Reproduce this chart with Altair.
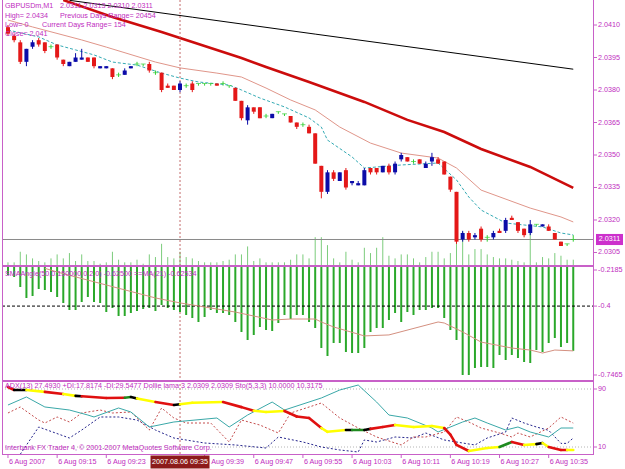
import altair as alt
import pandas as pd

# ---------------------------------------------------------------- data
# GBPUSDm M1 candles, bar 0 = 09:07 ... bar 92 = 10:39
OPEN = [2.0409, 2.0405, 2.0402, 2.0393, 2.0400, 2.0403, 2.0402, 2.0400, 2.0401, 2.0394,
        2.0391, 2.0393, 2.0394, 2.0395, 2.0395, 2.0390, 2.0390, 2.0390, 2.0387, 2.0387,
        2.0390, 2.0392, 2.0392, 2.0392, 2.0388, 2.0388, 2.0382, 2.0382, 2.0380, 2.0382,
        2.0383, 2.0383, 2.0383, 2.0383, 2.0383, 2.0383, 2.0382, 2.0381, 2.0375, 2.0366,
        2.0372, 2.0372, 2.0368, 2.0367, 2.0370, 2.0369, 2.0368, 2.0365, 2.0364, 2.0363,
        2.0360, 2.0345, 2.0333, 2.0342, 2.0338, 2.0343, 2.0337, 2.0336, 2.0336, 2.0344,
        2.0344, 2.0342, 2.0345, 2.0342, 2.0348, 2.0349, 2.0347, 2.0348, 2.0344, 2.0347,
        2.0348, 2.0347, 2.0340, 2.0333, 2.0311, 2.0314, 2.0312, 2.0316, 2.0312, 2.0312,
        2.0315, 2.0315, 2.0321, 2.0319, 2.0316, 2.0314, 2.0318, 2.0317, 2.0317, 2.0314,
        2.0310, 2.0309, 2.0311]
HIGH = [2.0410, 2.0406, 2.0403, 2.0399, 2.0403, 2.0404, 2.0402, 2.0401, 2.0401, 2.0394,
        2.0393, 2.0397, 2.0399, 2.0395, 2.0395, 2.0391, 2.0391, 2.0390, 2.0388, 2.0390,
        2.0391, 2.0393, 2.0392, 2.0393, 2.0389, 2.0388, 2.0383, 2.0382, 2.0384, 2.0383,
        2.0384, 2.0383, 2.0383, 2.0383, 2.0383, 2.0384, 2.0382, 2.0381, 2.0375, 2.0373,
        2.0372, 2.0372, 2.0369, 2.0369, 2.0370, 2.0369, 2.0368, 2.0365, 2.0365, 2.0364,
        2.0360, 2.0345, 2.0343, 2.0343, 2.0342, 2.0344, 2.0338, 2.0338, 2.0344, 2.0344,
        2.0344, 2.0345, 2.0346, 2.0347, 2.0351, 2.0349, 2.0348, 2.0348, 2.0347, 2.0351,
        2.0349, 2.0347, 2.0340, 2.0333, 2.0315, 2.0315, 2.0314, 2.0317, 2.0313, 2.0315,
        2.0316, 2.0321, 2.0322, 2.0319, 2.0316, 2.0320, 2.0318, 2.0318, 2.0318, 2.0314,
        2.0310, 2.0309, 2.0313]
LOW = [2.0405, 2.0402, 2.0392, 2.0391, 2.0399, 2.0400, 2.0397, 2.0399, 2.0394, 2.0391,
       2.0391, 2.0393, 2.0394, 2.0393, 2.0390, 2.0390, 2.0390, 2.0385, 2.0386, 2.0387,
       2.0390, 2.0391, 2.0391, 2.0388, 2.0387, 2.0379, 2.0381, 2.0380, 2.0379, 2.0381,
       2.0379, 2.0382, 2.0382, 2.0382, 2.0382, 2.0382, 2.0381, 2.0375, 2.0366, 2.0364,
       2.0369, 2.0367, 2.0367, 2.0367, 2.0369, 2.0368, 2.0365, 2.0362, 2.0363, 2.0360,
       2.0346, 2.0330, 2.0332, 2.0338, 2.0338, 2.0334, 2.0336, 2.0336, 2.0336, 2.0341,
       2.0341, 2.0342, 2.0341, 2.0341, 2.0347, 2.0347, 2.0346, 2.0346, 2.0344, 2.0345,
       2.0346, 2.0341, 2.0333, 2.0309, 2.0310, 2.0310, 2.0311, 2.0310, 2.0310, 2.0311,
       2.0314, 2.0314, 2.0320, 2.0314, 2.0312, 2.0313, 2.0317, 2.0317, 2.0315, 2.0311,
       2.0308, 2.0308, 2.0310]
CLOSE = [2.0406, 2.0403, 2.0393, 2.0399, 2.0402, 2.0401, 2.0398, 2.0400, 2.0395, 2.0392,
         2.0393, 2.0395, 2.0395, 2.0393, 2.0391, 2.0391, 2.0391, 2.0386, 2.0387, 2.0389,
         2.0391, 2.0392, 2.0392, 2.0389, 2.0388, 2.0380, 2.0381, 2.0380, 2.0383, 2.0382,
         2.0380, 2.0383, 2.0383, 2.0383, 2.0382, 2.0383, 2.0382, 2.0375, 2.0367, 2.0372,
         2.0370, 2.0367, 2.0368, 2.0369, 2.0370, 2.0369, 2.0365, 2.0363, 2.0364, 2.0360,
         2.0346, 2.0333, 2.0342, 2.0339, 2.0342, 2.0335, 2.0338, 2.0337, 2.0343, 2.0342,
         2.0342, 2.0345, 2.0342, 2.0346, 2.0350, 2.0347, 2.0347, 2.0346, 2.0346, 2.0349,
         2.0346, 2.0341, 2.0334, 2.0310, 2.0314, 2.0311, 2.0313, 2.0311, 2.0312, 2.0314,
         2.0314, 2.0320, 2.0320, 2.0315, 2.0313, 2.0318, 2.0318, 2.0318, 2.0315, 2.0311,
         2.0308, 2.0309, 2.0311]
VOLUME = [2, 2, 10, 8, 5, 3, 2, 5, 8, 5,
          9, 3, 8, 3, 3, 1, 2, 10, 4, 2,
          2, 4, 1, 8, 6, 16, 6, 5, 10, 6,
          5, 3, 2, 2, 2, 3, 4, 8, 8, 14,
          3, 5, 2, 2, 2, 2, 4, 8, 8, 5,
          21, 21, 15, 5, 2, 10, 4, 2, 13, 9,
          13, 21, 7, 5, 8, 8, 5, 2, 6, 10,
          10, 5, 9, 24, 25, 8, 12, 12, 8, 6,
          5, 5, 4, 3, 2, 25, 2, 6, 5, 9,
          7, 4, 4]

# moving averages on price (bar index, value)
MA_BLACK_BAR = [10, 30, 50, 70, 92]
MA_BLACK = [2.04214, 2.04136, 2.04058, 2.03981, 2.03896]
MA_RED_BAR = [9, 17, 25, 29, 38, 42, 49, 58, 65, 71, 77, 85, 92]
MA_RED = [2.04215, 2.04137, 2.04068, 2.04031, 2.03948, 2.03906, 2.03837, 2.03745,
          2.03662, 2.03606, 2.03528, 2.03445, 2.03348]
MA_SALMON_BAR = [0, 4, 12, 16, 24, 28, 34, 38, 42, 46, 50, 54, 59, 64, 70, 73, 77, 85, 90, 92]
MA_SALMON = [2.04123, 2.04091, 2.04031, 2.03998, 2.03929, 2.03902, 2.03878, 2.03860,
             2.03809, 2.03754, 2.03708, 2.03629, 2.03555, 2.03509, 2.03486, 2.03440,
             2.03338, 2.03255, 2.03214, 2.03191]
MA_CYAN_BAR = [0, 5, 8, 11, 14, 17, 21, 25, 28, 31, 36, 38, 41, 45, 49, 51, 52, 56, 58,
               64, 70, 73, 75, 77, 81, 84, 87, 90, 92]
MA_CYAN = [2.04077, 2.04045, 2.04008, 2.03985, 2.03962, 2.03929, 2.03915, 2.03878,
           2.03855, 2.03837, 2.03823, 2.03800, 2.03763, 2.03722, 2.03671, 2.03629,
           2.03569, 2.03491, 2.03440, 2.03454, 2.03463, 2.03385, 2.03306, 2.03246,
           2.03186, 2.03177, 2.03168, 2.03140, 2.03131]

# SMAAngle histogram and its MA(21)
SMA_ANGLE = [-0.2436, -0.2537, -0.3040, -0.3593, -0.3493, -0.3141, -0.3191, -0.3291, -0.3543, -0.3845,
             -0.4197, -0.4197, -0.3794, -0.3543, -0.3794, -0.3845, -0.4297, -0.4096, -0.4498, -0.4498,
             -0.4347, -0.4247, -0.4146, -0.4096, -0.4247, -0.3945, -0.4096, -0.4197, -0.4297, -0.4448,
             -0.4599, -0.4800, -0.4549, -0.4197, -0.4347, -0.4347, -0.4448, -0.4800, -0.5303, -0.5705,
             -0.5454, -0.5052, -0.5202, -0.5253, -0.4850, -0.4448, -0.4649, -0.4448, -0.4448, -0.4800,
             -0.5102, -0.6108, -0.6510, -0.5856, -0.5856, -0.6309, -0.6359, -0.6359, -0.6108, -0.5303,
             -0.5102, -0.5102, -0.4700, -0.4347, -0.4800, -0.4297, -0.4448, -0.4197, -0.4197, -0.4096,
             -0.4096, -0.4599, -0.5202, -0.5705, -0.7465, -0.7465, -0.7113, -0.7063, -0.7063, -0.7113,
             -0.6460, -0.6711, -0.6460, -0.6611, -0.6812, -0.6862, -0.6208, -0.6309, -0.5856, -0.5605,
             -0.6057, -0.5856, -0.6250]
SMA_MA_BAR = [6, 8, 16, 24, 28, 37, 43, 46, 50, 51, 53, 58, 62, 70, 71, 74, 77, 82, 85, 87, 89, 92]
SMA_MA = [-0.2100, -0.2286, -0.2940, -0.3590, -0.3840, -0.4300, -0.4700, -0.4650, -0.4650,
          -0.4800, -0.5050, -0.5500, -0.5450, -0.4800, -0.4850, -0.5300, -0.5810, -0.6110,
          -0.6210, -0.6360, -0.6210, -0.6253]

# lower window oscillators
OSC_THICK_BAR = [0, 1, 3, 6, 9, 11, 12, 16, 19, 20, 21, 24, 27, 28, 30, 35, 38, 40, 42, 45,
                 47, 49, 51, 52, 55, 56, 58, 59, 61, 63, 66, 69, 71, 72, 73, 75, 78, 80, 82, 84,
                 86, 87, 88, 90, 91, 92]
OSC_THICK = [92.8, 88.6, 88.6, 86.0, 83.0, 80.5, 80.0, 77.6, 78.0, 79.0, 77.0, 72.0, 68.0, 69.0,
             71.0, 72.0, 65.0, 60.0, 58.3, 59.7, 52.0, 50.0, 36.2, 31.0, 33.4, 33.4, 33.4, 35.0,
             37.6, 40.3, 37.6, 39.0, 36.2, 27.0, 13.0, 4.5, 8.6, 10.0, 16.9, 12.8, 14.0, 15.5,
             10.0, 5.9, 5.9, 5.9]
OSC_THICK_COLOR = ["red", "black", "yellow", "red", "yellow", "black", "red", "red", "green", "black",
                   "yellow", "red", "black", "yellow", "yellow", "red", "red", "yellow", "yellow", "red",
                   "red", "red", "yellow", "yellow", "black", "green", "black", "red", "red", "yellow",
                   "yellow", "yellow", "red", "red", "red", "yellow", "yellow", "green", "red", "yellow",
                   "black", "yellow", "red", "red", "yellow", "yellow"]
OSC_CYAN_BAR = [0, 3, 6, 10, 13, 14, 18, 20, 23, 27, 34, 36, 39, 43, 45, 51, 54, 57, 60, 62,
                65, 69, 70, 74, 76, 78, 81, 83, 85, 88, 90, 92]
OSC_CYAN = [67.9, 79.0, 65.2, 61.0, 54.1, 51.4, 63.8, 58.3, 37.6, 44.5, 50.0, 37.6, 54.1, 72.0,
            61.0, 77.6, 88.6, 95.5, 72.0, 54.1, 50.0, 36.2, 30.7, 44.5, 50.0, 43.1, 33.4, 37.6,
            30.7, 23.8, 36.2, 36.2]
OSC_RED_BAR = [0, 2, 5, 6, 8, 10, 12, 15, 17, 20, 23, 25, 27, 29, 33, 36, 38, 41, 44, 46,
               50, 51, 54, 57, 60, 64, 66, 68, 71, 73, 75, 77, 80, 82, 83, 85, 88, 90, 92]
OSC_RED = [56.9, 65.2, 47.2, 43.1, 51.4, 44.5, 56.9, 61.0, 56.9, 58.3, 33.4, 63.8, 50.0, 43.1,
           43.1, 16.9, 47.2, 40.3, 29.3, 56.9, 67.9, 70.7, 50.0, 36.2, 23.8, 12.8, 23.8, 23.8,
           30.7, 51.4, 44.5, 36.2, 29.3, 23.8, 29.3, 23.8, 36.2, 51.4, 43.0]
OSC_NAVY_BAR = [2, 5, 10, 12, 15, 18, 21, 24, 27, 32, 37, 42, 44, 48, 51, 54, 57, 58, 60, 63,
                66, 68, 71, 74, 76, 78, 81, 82, 84, 86, 88, 90, 91, 92]
OSC_NAVY = [0.0, 37.6, 22.4, 33.4, 51.4, 51.4, 47.2, 33.4, 22.4, 15.5, 12.8, 8.6, 23.8, 16.9,
            10.0, 5.9, 3.1, 19.7, 16.9, 23.8, 22.4, 29.3, 19.7, 15.5, 12.8, 22.4, 30.7, 50.0,
            43.1, 37.6, 33.0, 15.0, 15.0, 22.4]

# axis ticks / labels
PRICE_TICKS = [2.0410, 2.0395, 2.0380, 2.0365, 2.0350, 2.0335, 2.0320, 2.0305]
CUR_PRICE = 2.0311
SMA_TICKS = [-0.2185, -0.4, -0.7465]
SMA_LEVEL = -0.4
OSC_TICKS = [90, 10]
TIME_LABEL_BARS = [0, 8, 16, 32, 40, 48, 56, 64, 72, 80, 88]
TIME_LABELS = ["6 Aug 2007", "6 Aug 09:15", "6 Aug 09:23", "6 Aug 09:39",
               "6 Aug 09:47", "6 Aug 09:55", "6 Aug 10:03", "6 Aug 10:11", "6 Aug 10:19",
               "6 Aug 10:27", "6 Aug 10:35"]
CROSS_BAR = 28
CROSS_LABEL = "2007.08.06 09:35"

HEADER = [
    ("GBPUSDm,M1", 3, 6), ("2.0311 2.0313 2.0310 2.0311", 58, 6),
    ("High= 2.0434", 3, 16), ("Previous Days Range= 20454", 58, 16),
    ("Low= 0", 3, 25), ("Current Days Range= 154", 40, 25),
    ("Close= 2.041", 3, 34),
    ("SMAAngle(50,0.150000,0.2,0) -0.62500  ==MA(21) -0.62534", 3, 274),
    ("ADX(13) 27.4930 +DI:17.8174 -DI:29.5477  Dollie lama 3 2.0309 2.0309  Sto(5,3,3) 10.0000 10.3175", 3, 386),
    ("Interbank FX Trader 4, \u00a9 2001-2007 MetaQuotes Software Corp.", 3, 448),
]

# ---------------------------------------------------------------- layout
W, H = 591, 455
X_DOMAIN = [-0.16, 94.4]
TOP_DOMAIN, TOP_RANGE = [2.029923, 2.042154], [265, 0]
VOL_DOMAIN = [0, 200]
MID_DOMAIN, MID_RANGE = [-0.7717, -0.2034], [380, 267]
BOT_DOMAIN, BOT_RANGE = [0, 100], [454.25, 381.75]

FONT = "Liberation Sans"
FS = 7.2
MAG = "#c02cc0"
FRAME = "#c860c8"
THICK_COLORS = {"red": "#e01010", "yellow": "#ffff00", "black": "#000000", "green": "#1f8a1f"}


def xq(field="i"):
    return alt.X(f"{field}:Q", scale=alt.Scale(domain=X_DOMAIN, nice=False, zero=False), axis=None)


def yq(field, domain, rng):
    return alt.Y(f"{field}:Q",
                 scale=alt.Scale(domain=domain, range=rng, nice=False, zero=False, clamp=True),
                 axis=None)


def series(bars, vals):
    return pd.DataFrame({"i": bars, "v": vals})


N = len(CLOSE)
candles = pd.DataFrame({"i": list(range(N)), "o": OPEN, "h": HIGH, "l": LOW, "c": CLOSE, "vol": VOLUME})
candles["col"] = ["#0c0ca8" if c > o else ("#e41818" if c < o else "#36d036")
                  for o, c in zip(OPEN, CLOSE)]
one = pd.DataFrame({"a": [0]})
layers = []

# ---- top window
layers.append(alt.Chart(candles).mark_rule(strokeWidth=1, color="#7ccc7c").encode(
    x=xq(), y=yq("vol", VOL_DOMAIN, TOP_RANGE), y2=alt.datum(0)))
layers.append(alt.Chart(pd.DataFrame({"p": [CUR_PRICE]})).mark_rule(color="#8a8a8a", strokeWidth=1).encode(
    y=yq("p", TOP_DOMAIN, TOP_RANGE), x=alt.value(0), x2=alt.value(W)))
layers.append(alt.Chart(series(MA_BLACK_BAR, MA_BLACK)).mark_line(color="#000000", strokeWidth=1).encode(
    x=xq(), y=yq("v", TOP_DOMAIN, TOP_RANGE)))
layers.append(alt.Chart(series(MA_SALMON_BAR, MA_SALMON)).mark_line(color="#e0968a", strokeWidth=1).encode(
    x=xq(), y=yq("v", TOP_DOMAIN, TOP_RANGE)))
layers.append(alt.Chart(series(MA_RED_BAR, MA_RED)).mark_line(color="#cc0c0c", strokeWidth=2.6).encode(
    x=xq(), y=yq("v", TOP_DOMAIN, TOP_RANGE)))
layers.append(alt.Chart(series(MA_CYAN_BAR, MA_CYAN)).mark_line(color="#34aab4", strokeWidth=1,
                                                                  strokeDash=[3, 2]).encode(
    x=xq(), y=yq("v", TOP_DOMAIN, TOP_RANGE)))

# crosshair
layers.append(alt.Chart(pd.DataFrame({"i": [CROSS_BAR]})).mark_rule(color="#c46a6a", strokeWidth=1,
                                                                       strokeDash=[2, 2]).encode(
    x=xq(), y=alt.value(0), y2=alt.value(454)))

layers.append(alt.Chart(candles).mark_rule(strokeWidth=1).encode(
    x=xq(), y=yq("l", TOP_DOMAIN, TOP_RANGE), y2=alt.Y2("h"), color=alt.Color("col:N", scale=None)))
layers.append(alt.Chart(candles).transform_filter("datum.o != datum.c").mark_bar(size=4).encode(
    x=xq(), y=yq("o", TOP_DOMAIN, TOP_RANGE), y2=alt.Y2("c"), color=alt.Color("col:N", scale=None)))
layers.append(alt.Chart(candles).transform_filter("datum.o == datum.c").mark_tick(
    orient="horizontal", size=5, thickness=1).encode(
    x=xq(), y=yq("c", TOP_DOMAIN, TOP_RANGE), color=alt.Color("col:N", scale=None)))

# ---- middle window
layers.append(alt.Chart(series(list(range(N)), SMA_ANGLE)).mark_rule(strokeWidth=2, color="#2aa82a").encode(
    x=xq(), y=yq("v", MID_DOMAIN, MID_RANGE), y2=alt.datum(0)))
layers.append(alt.Chart(pd.DataFrame({"v": [SMA_LEVEL]})).mark_rule(color="#000000", strokeWidth=1,
                                                                     strokeDash=[3, 2]).encode(
    y=yq("v", MID_DOMAIN, MID_RANGE), x=alt.value(0), x2=alt.value(W)))
layers.append(alt.Chart(series(SMA_MA_BAR, SMA_MA)).mark_line(color="#d49080", strokeWidth=1).encode(
    x=xq(), y=yq("v", MID_DOMAIN, MID_RANGE)))

# ---- lower window
layers.append(alt.Chart(pd.DataFrame({"v": OSC_TICKS})).mark_rule(color="#b4b4b4", strokeWidth=1,
                                                                   strokeDash=[1, 2]).encode(
    y=yq("v", BOT_DOMAIN, BOT_RANGE), x=alt.value(0), x2=alt.value(W)))
layers.append(alt.Chart(series(OSC_NAVY_BAR, OSC_NAVY)).mark_line(color="#24248c", strokeWidth=1,
                                                                   strokeDash=[2, 2]).encode(
    x=xq(), y=yq("v", BOT_DOMAIN, BOT_RANGE)))
layers.append(alt.Chart(series(OSC_RED_BAR, OSC_RED)).mark_line(color="#c44c4c", strokeWidth=1,
                                                                 strokeDash=[2, 2]).encode(
    x=xq(), y=yq("v", BOT_DOMAIN, BOT_RANGE)))
layers.append(alt.Chart(series(OSC_CYAN_BAR, OSC_CYAN)).mark_line(color="#3aa8a8", strokeWidth=1).encode(
    x=xq(), y=yq("v", BOT_DOMAIN, BOT_RANGE)))
seg = pd.DataFrame({
    "i": OSC_THICK_BAR[:-1], "i2": OSC_THICK_BAR[1:],
    "v": OSC_THICK[:-1], "v2": OSC_THICK[1:],
    "col": [THICK_COLORS[c] for c in OSC_THICK_COLOR[:-1]],
})
layers.append(alt.Chart(seg).mark_rule(strokeWidth=2.6, strokeCap="round").encode(
    x=xq(), x2=alt.X2("i2"), y=yq("v", BOT_DOMAIN, BOT_RANGE), y2=alt.Y2("v2"),
    color=alt.Color("col:N", scale=None)))

# ---- frame
layers.append(alt.Chart(one).mark_rule(color=FRAME, strokeWidth=1).encode(
    x=alt.value(0.5), y=alt.value(0), y2=alt.value(455)))
layers.append(alt.Chart(one).mark_rule(color=FRAME, strokeWidth=1).encode(
    x=alt.value(W + 0.5), y=alt.value(0), y2=alt.value(455)))
layers.append(alt.Chart(one).mark_rule(color=FRAME, strokeWidth=1).encode(
    y=alt.value(454.5), x=alt.value(0), x2=alt.value(W + 1)))
layers.append(alt.Chart(one).mark_rule(color=FRAME, strokeWidth=2).encode(
    y=alt.value(266), x=alt.value(0), x2=alt.value(W + 1)))
layers.append(alt.Chart(one).mark_rule(color=FRAME, strokeWidth=2).encode(
    y=alt.value(381), x=alt.value(0), x2=alt.value(W + 1)))


# ---- right-hand scale labels
def right_labels(values, fmt, domain, rng):
    df = pd.DataFrame({"v": values, "lab": [fmt(v) for v in values]})
    tick = alt.Chart(df).mark_rule(color=FRAME, strokeWidth=1).encode(
        y=yq("v", domain, rng), x=alt.value(W + 1), x2=alt.value(W + 4))
    txt = alt.Chart(df).mark_text(align="left", baseline="middle", font=FONT, fontSize=FS,
                                  color=MAG).encode(
        y=yq("v", domain, rng), x=alt.value(W + 5), text="lab:N")
    return [tick, txt]


layers += right_labels(PRICE_TICKS, lambda v: f"{v:.4f}", TOP_DOMAIN, TOP_RANGE)
layers += right_labels(SMA_TICKS, lambda v: f"{v:g}", MID_DOMAIN, MID_RANGE)
layers += right_labels(OSC_TICKS, lambda v: f"{v:g}", BOT_DOMAIN, BOT_RANGE)

cur = pd.DataFrame({"v": [CUR_PRICE], "lab": [f"{CUR_PRICE:.4f}"]})
layers.append(alt.Chart(cur).mark_point(
    shape="M-1,-0.41L1,-0.41L1,0.41L-1,0.41Z", size=729, filled=True, opacity=1,
    color="#cc30cc").encode(y=yq("v", TOP_DOMAIN, TOP_RANGE), x=alt.value(W + 16.5)))
layers.append(alt.Chart(cur).mark_text(align="center", baseline="middle", font=FONT, fontSize=FS,
                                       color="white").encode(
    y=yq("v", TOP_DOMAIN, TOP_RANGE), x=alt.value(W + 16.5), text="lab:N"))

# ---- time scale
tl = pd.DataFrame({"i": TIME_LABEL_BARS, "lab": TIME_LABELS})
layers.append(alt.Chart(tl).mark_rule(color=FRAME, strokeWidth=1).encode(
    x=xq(), y=alt.value(455), y2=alt.value(458)))
layers.append(alt.Chart(tl).mark_text(align="left", baseline="middle", font=FONT, fontSize=FS,
                                      color=MAG, dx=1).encode(
    x=xq(), y=alt.value(462), text="lab:N"))
cross = pd.DataFrame({"i": [CROSS_BAR], "lab": [CROSS_LABEL]})
layers.append(alt.Chart(cross).mark_point(
    shape="M-1,-0.22L1,-0.22L1,0.22L-1,0.22Z", size=3481, filled=True, opacity=1,
    color="#8c1a1a").encode(x=xq(), y=alt.value(462)))
layers.append(alt.Chart(cross).mark_text(align="center", baseline="middle", font=FONT, fontSize=FS,
                                         color="white").encode(
    x=xq(), y=alt.value(462), text="lab:N"))

# ---- window texts
hd = pd.DataFrame({"t": [h[0] for h in HEADER], "px": [h[1] for h in HEADER],
                   "py": [h[2] for h in HEADER]})
layers.append(alt.Chart(hd).mark_text(align="left", baseline="middle", font=FONT, fontSize=FS,
                                      color=MAG).encode(
    x=alt.X("px:Q", scale=None), y=alt.Y("py:Q", scale=None), text="t:N"))

chart = alt.layer(*layers).resolve_scale(y="independent").properties(
    width=W, height=H,
    padding={"left": 2, "top": 0, "right": 32, "bottom": 14},
    autosize=alt.AutoSizeParams(type="none"),
    background="white",
).configure_view(stroke=None)

chart.save("out.html", embed_options={"renderer": "svg", "actions": False})
